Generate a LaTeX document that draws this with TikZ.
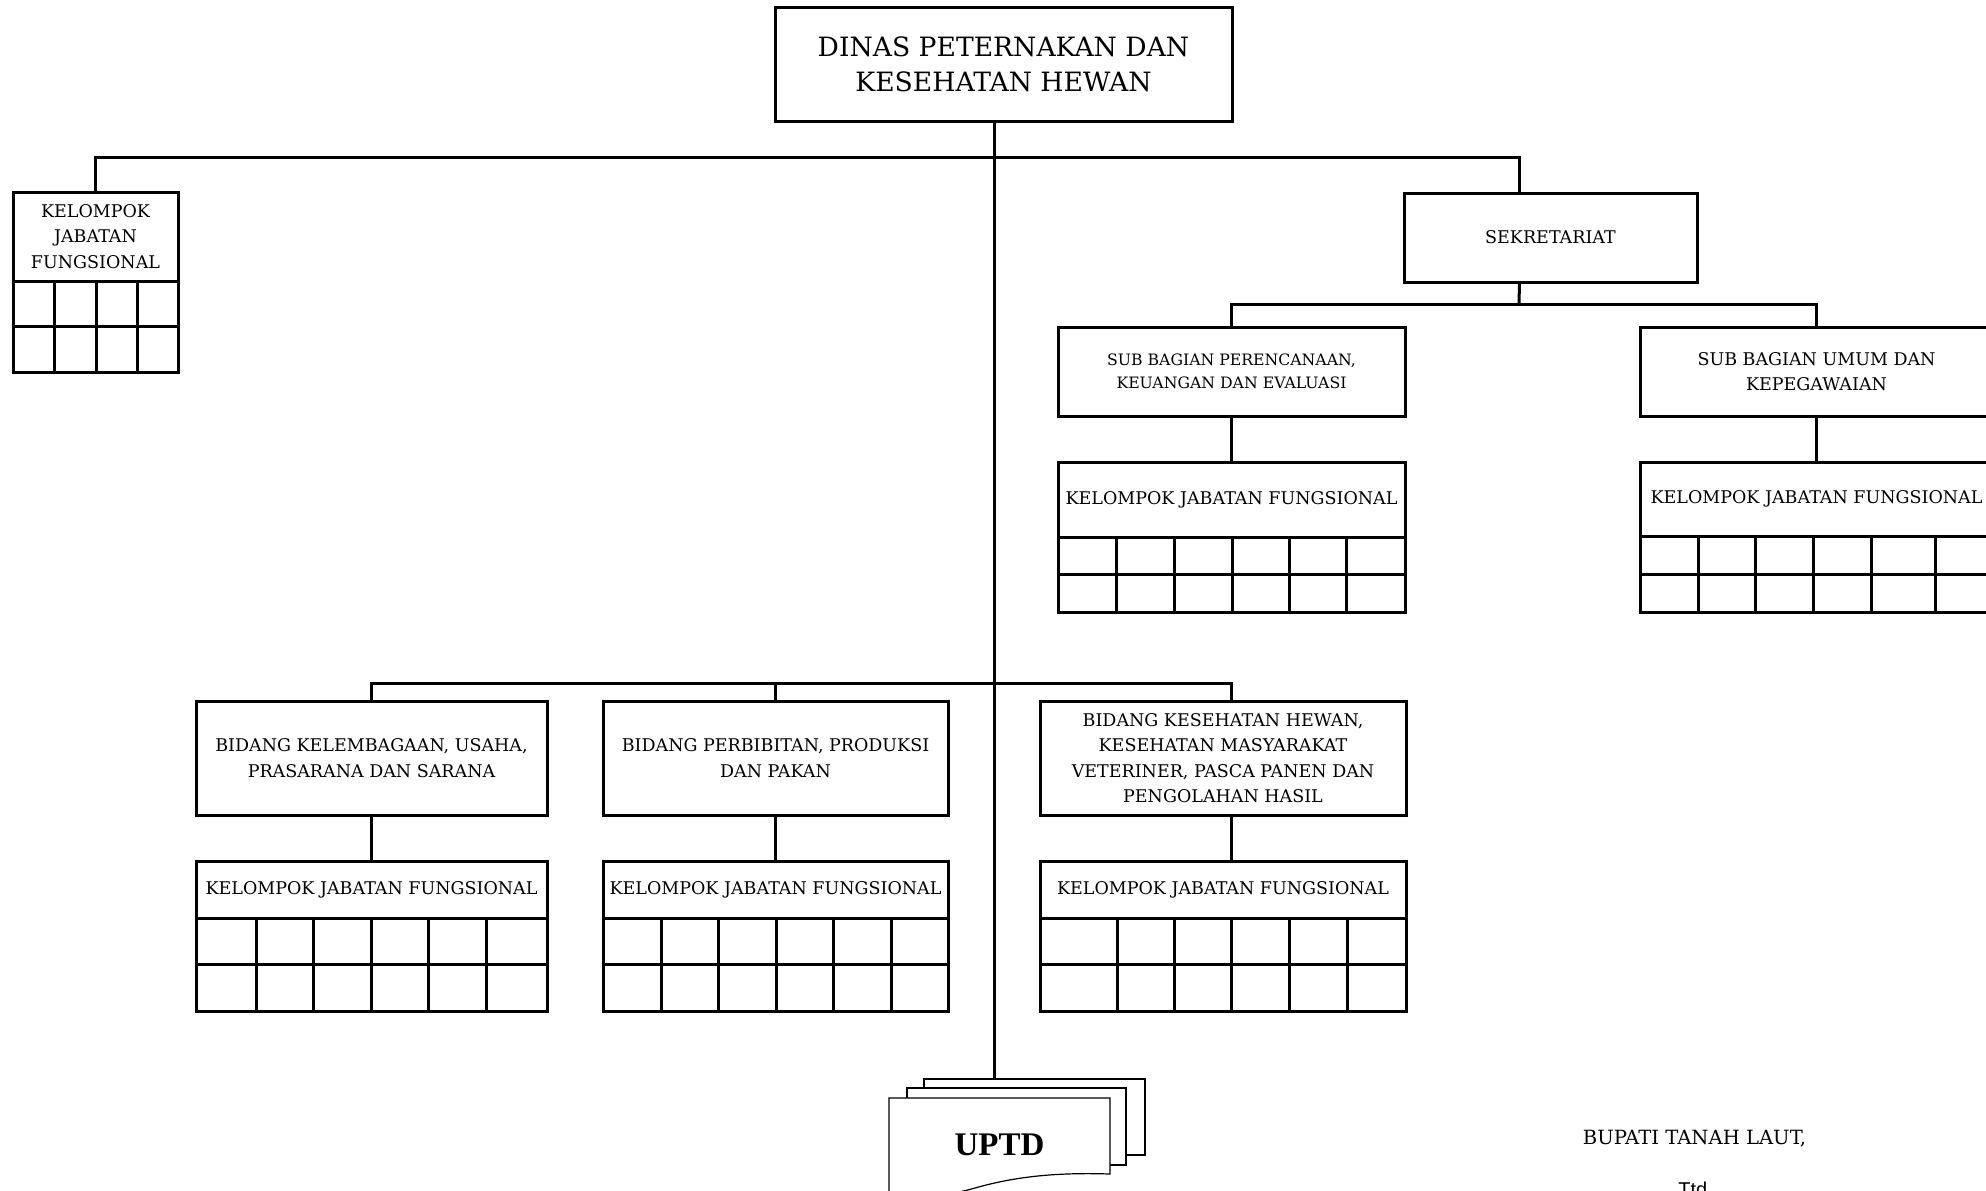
\documentclass[tikz,border=0pt]{standalone}
\usepackage{fontspec}
\setmainfont{DejaVu Serif}
\newfontfamily\uptdfont{Liberation Serif}
\newfontfamily\ttdfont{Liberation Sans}
\usetikzlibrary{positioning}
\newcommand{\kjfgrid}[4]{
    \draw[unit line] (#1.south west) rectangle ++(#2,2*#3);
    \draw[unit line] (#1.south west) ++(0,#3) -- ++(#2,0);
    \foreach \c in {#4} \draw[unit line] (#1.south west) ++(\c,0) -- ++(0,2*#3);
}

\begin{document}
\begin{tikzpicture}[
        x=0.5pt,
        y=-0.5pt,
        node distance=23pt,
        unit line/.style={line width=1.5pt},
        unit/.style={draw, unit line, inner sep=0pt, outer sep=0pt, align=center,
            font=\fontsize{8.75}{12.75}\selectfont},
        small unit/.style={unit, font=\fontsize{7.85}{11.5}\selectfont},
        head/.style={unit, font=\fontsize{13.3}{17.5}\selectfont},
        link/.style={line width=1.5pt},
        page/.style={draw, fill=white, line width=0.6pt}
    ]
    \useasboundingbox (0,0) rectangle (1986,1190);
    \clip (0,0) rectangle (1986,1190);

    \node[head, minimum width=228.5pt, minimum height=57pt] (dinas) at (1003.5,64)
        {DINAS PETERNAKAN DAN\\KESEHATAN HEWAN};

    \node[unit, minimum width=82.5pt, minimum height=44.5pt] (kjfL) at (95.5,236.5)
        {KELOMPOK\\JABATAN\\FUNGSIONAL};
    \node[unit, minimum width=146.5pt, minimum height=44.5pt] (sekr) at (1550.5,237.5)
        {SEKRETARIAT};

    \node[small unit, minimum width=173.5pt, minimum height=44.5pt] (sbp) at (1231.5,371.5)
        {SUB BAGIAN PERENCANAAN,\\KEUANGAN DAN EVALUASI};
    \node[unit, minimum width=176.5pt, minimum height=44.5pt] (sbu) at (1816.5,371.5)
        {SUB BAGIAN UMUM DAN\\KEPEGAWAIAN};
    \node[unit, minimum width=173.5pt, minimum height=37.5pt, below=of sbp] (kjfP)
        {KELOMPOK JABATAN FUNGSIONAL};
    \node[unit, minimum width=176.5pt, minimum height=37pt, below=of sbu] (kjfU)
        {KELOMPOK JABATAN FUNGSIONAL};

    \node[unit, minimum width=175.5pt, minimum height=57pt] (bid1) at (371.5,758)
        {BIDANG KELEMBAGAAN, USAHA,\\PRASARANA DAN SARANA};
    \node[unit, minimum width=172.5pt, minimum height=57pt] (bid2) at (775.5,758)
        {BIDANG PERBIBITAN, PRODUKSI\\DAN PAKAN};
    \node[unit, minimum width=183pt, minimum height=57pt] (bid3) at (1223,758)
        {BIDANG KESEHATAN HEWAN,\\KESEHATAN MASYARAKAT\\VETERINER, PASCA PANEN DAN\\PENGOLAHAN HASIL};
    \node[unit, minimum width=175.5pt, minimum height=28.5pt, below=of bid1] (kjf1)
        {KELOMPOK JABATAN FUNGSIONAL};
    \node[unit, minimum width=172.5pt, minimum height=28.5pt, below=of bid2] (kjf2)
        {KELOMPOK JABATAN FUNGSIONAL};
    \node[unit, minimum width=183pt, minimum height=28.5pt, below=of bid3] (kjf3)
        {KELOMPOK JABATAN FUNGSIONAL};

    \kjfgrid{kjfL}{165}{45.5}{41,83,124}
    \kjfgrid{kjfP}{347}{37.5}{58,116,174,231,288}
    \kjfgrid{kjfU}{353}{38}{58,115,173,231,295}
    \kjfgrid{kjf1}{351}{46.5}{60,117,175,232,290}
    \kjfgrid{kjf2}{345}{46.5}{58,115,173,230,288}
    \kjfgrid{kjf3}{366}{46.5}{77,134,191,249,307}

    \node[page, minimum width=110.5pt, minimum height=38pt] (uptdC) at (1034.5,1117) {};
    \node[page, minimum width=109.5pt, minimum height=38.5pt] (uptdB) at (1016.5,1126.5) {};
    \draw[page] (889,1098) -- (1110,1098) -- (1110,1174)
        .. controls (1050,1172) and (1010,1178) .. (975,1188)
        .. controls (940,1198) and (910,1198) .. (889,1194) -- cycle;
    \node[font=\uptdfont\bfseries\fontsize{16.5}{18}\selectfont] (uptd) at (999.5,1145) {UPTD};

    \coordinate (trunk) at (994,1079);
    \coordinate (bus1) at (994,157);
    \coordinate (bus2) at (1519,304);
    \coordinate (bus3) at (994,683);

    \draw[link] (trunk |- dinas.south) -- (trunk);
    \draw[link] (kjfL.north) |- (bus1) -| ([xshift=-15.5pt]sekr.north);
    \draw[link] ([xshift=-15.5pt]sekr.south) -- (bus2);
    \draw[link] (sbp.north) |- (bus2) -| (sbu.north);
    \draw[link] (sbp) -- (kjfP);
    \draw[link] (sbu) -- (kjfU);
    \draw[link] (bid1.north) |- (bus3) -| ([xshift=4pt]bid3.north);
    \draw[link] (bid2.north) -- (bid2.north |- bus3);
    \draw[link] (bid1) -- (kjf1);
    \draw[link] (bid2) -- (kjf2);
    \draw[link] ([xshift=4pt]bid3.south) -- ([xshift=4pt]kjf3.north);

    \node[anchor=base, font=\fontsize{9.8}{12}\selectfont] (bupati) at (1694.5,1144) {BUPATI TANAH LAUT,};
    \node[anchor=base west, inner sep=0pt, font=\ttdfont\fontsize{10}{12}\selectfont] (ttd) at (1678,1196) {Ttd};
\end{tikzpicture}
\end{document}
